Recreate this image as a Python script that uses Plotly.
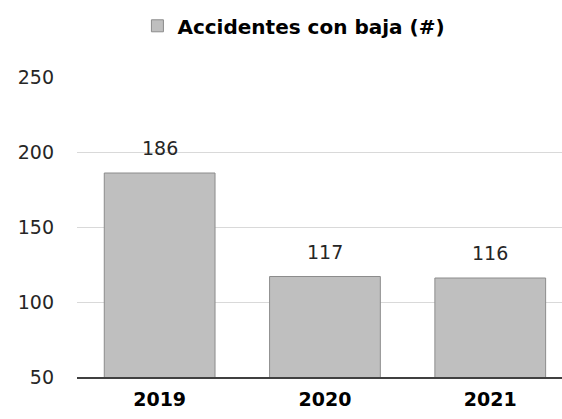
import plotly.graph_objects as go

years = ["2019", "2020", "2021"]
accidentes = [186, 117, 116]
series_name = "Accidentes con baja (#)"
y_ticks = [50, 100, 150, 200, 250]

font_family = "DejaVu Sans, sans-serif"

fig = go.Figure()
fig.add_trace(go.Bar(
    x=years,
    y=accidentes,
    name=series_name,
    width=0.67,
    marker=dict(color="#BFBFBF", line=dict(color="#8C8C8C", width=1)),
    showlegend=True,
))

# value labels above each bar (category index, since "2019" reads as a number)
for i, val in enumerate(accidentes):
    fig.add_annotation(
        x=i, y=val, xref="x", yref="y", text=str(val), showarrow=False,
        yanchor="bottom", yshift=12,
        font=dict(family=font_family, size=19, color="#262626"),
    )

fig.update_layout(
    width=562, height=419,
    margin=dict(l=77, r=0, t=77, b=42),
    plot_bgcolor="white", paper_bgcolor="white",
    font=dict(family=font_family, color="#262626"),
    legend=dict(
        orientation="h", xref="container", x=0.523, xanchor="center",
        yref="container", y=0.985, yanchor="top",
        font=dict(size=20, color="#000000", family=font_family, weight="bold"),
        itemwidth=30,
    ),
    xaxis=dict(
        type="category",
        range=[-0.5, 2.434],
        showgrid=False,
        showline=True, linecolor="#404040", linewidth=2,
        tickfont=dict(size=19, color="#000000", family=font_family, weight="bold"),
        ticks="", ticklabelstandoff=4,
    ),
    yaxis=dict(
        range=[50, 250],
        tickvals=y_ticks,
        showgrid=True, gridcolor="#D9D9D9", gridwidth=1,
        zeroline=False, showline=False,
        tickfont=dict(size=19, color="#262626"),
        ticks="", ticklabelstandoff=22,
    ),
)

fig.write_html("out.html", config={"displayModeBar": False},
               post_script="document.body.style.margin='0';")
